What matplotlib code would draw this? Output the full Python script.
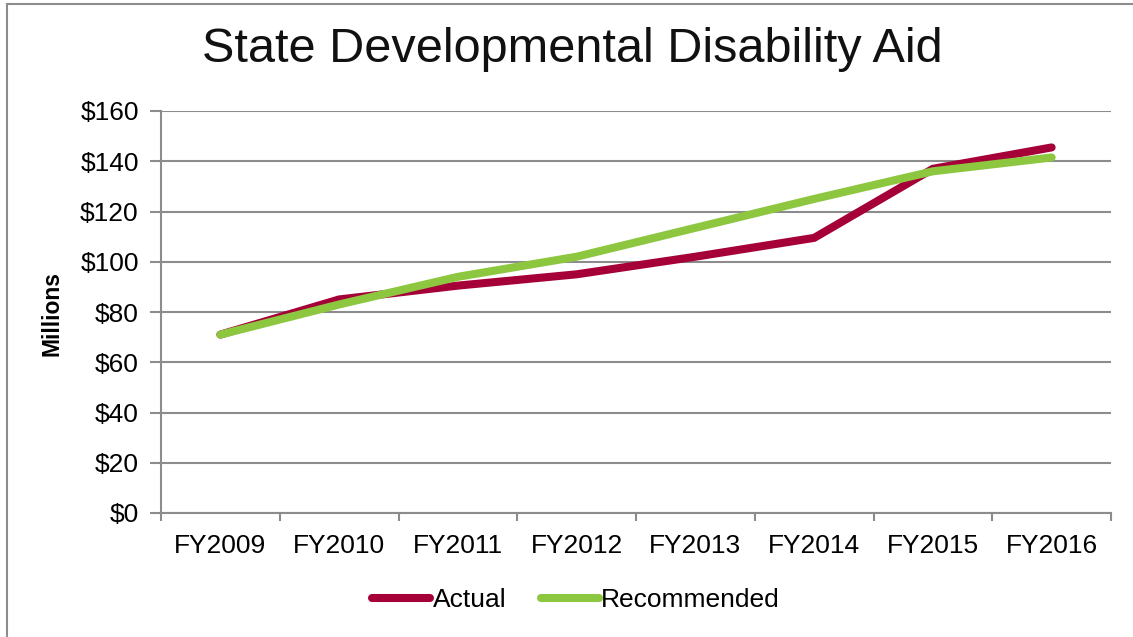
import numpy as np
import matplotlib.pyplot as plt
from matplotlib.patches import Rectangle
from matplotlib.lines import Line2D

plt.rcParams['font.family'] = ['Liberation Sans', 'DejaVu Sans']

years = ['FY2009', 'FY2010', 'FY2011', 'FY2012', 'FY2013', 'FY2014', 'FY2015', 'FY2016']
actual = [71, 85, 90.5, 95, 102, 109.5, 137, 145.5]
recommended = [71, 83, 94, 102, 113.5, 125, 136, 141.5]

red = '#a50038'
green = '#8dc63f'
grey = '#8c8c8c'
lw = 5.8

fig = plt.figure(figsize=(11.33, 6.37), dpi=100)
ax = fig.add_axes([161 / 1133, 1 - 513 / 637, 950 / 1133, 402 / 637])

x = np.arange(len(years))
ax.plot(x, actual, color=red, lw=lw, solid_capstyle='round', solid_joinstyle='miter', zorder=3)
ax.plot(x, recommended, color=green, lw=lw, solid_capstyle='round', solid_joinstyle='miter', zorder=4)

ax.set_xlim(-0.5, len(years) - 0.5)
ax.set_ylim(0, 160)
ax.set_yticks(np.arange(0, 161, 20))
ax.set_yticklabels([f'${v}' for v in range(0, 161, 20)], fontsize=19)
ax.set_xticks(x)
ax.set_xticklabels(years, fontsize=19)
ax.set_xticks(np.arange(-0.5, len(years)), minor=True)
ax.tick_params(axis='x', which='major', length=0, pad=15)
ax.tick_params(axis='x', which='minor', length=6, width=1.5, color=grey)
ax.tick_params(axis='y', length=8, width=1.5, color=grey, pad=8)

ax.grid(axis='y', color=grey, lw=1.5)
ax.set_axisbelow(True)
for side in ['top', 'right']:
    ax.spines[side].set_visible(False)
for side in ['left', 'bottom']:
    ax.spines[side].set_color(grey)
    ax.spines[side].set_linewidth(1.5)

fig.text(52 / 1133, 1 - 313 / 637, 'Millions', rotation=90, fontsize=16.5, fontweight='bold',
         ha='center', va='center')
fig.text(572 / 1133, 1 - 50 / 637, 'State Developmental Disability Aid', fontsize=35,
         ha='center', va='center', color='#111111')

handles = [Line2D([], [], color=red, lw=lw, solid_capstyle='round'),
           Line2D([], [], color=green, lw=lw, solid_capstyle='round')]
fig.legend(handles, ['Actual', 'Recommended'], loc='center', bbox_to_anchor=(576 / 1133, 1 - 600 / 637),
           ncol=2, frameon=False, fontsize=19, handlelength=2.2, handletextpad=0.1,
           columnspacing=1.3)

# frame around the chart area
fig.patches.append(Rectangle((7 / 1133, -0.5), 2, 0.5 + (1 - 4 / 637), transform=fig.transFigure,
                             fill=False, edgecolor=grey, lw=1.5))

fig.savefig('out.png', dpi=100)
